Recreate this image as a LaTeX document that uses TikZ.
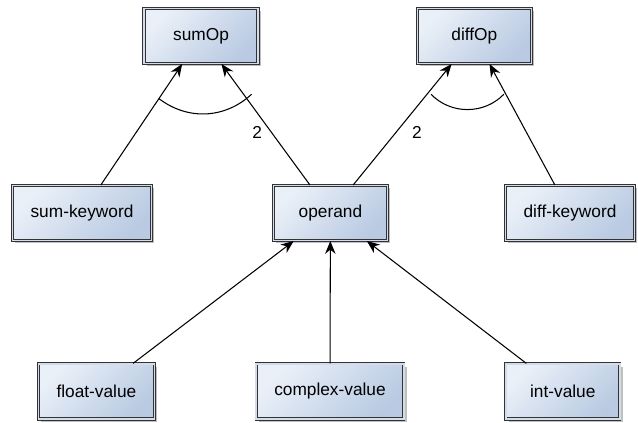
\documentclass[tikz,border=0pt]{standalone}
\usepackage{fontspec}
\setmainfont{Liberation Sans}
\usetikzlibrary{arrows.meta,shadows}
\definecolor{boxlight}{HTML}{EAF0F8}
\definecolor{boxdark}{HTML}{B9CAE2}
\definecolor{boxgap}{HTML}{D2DCEA}
\tikzset{
  concept/.style={draw=black!80, line width=0.6pt, double=boxgap, double distance=1.1pt,
    top color=boxlight, bottom color=boxdark, shading angle=45,
    drop shadow={shadow xshift=2pt, shadow yshift=-2pt, opacity=0.25, fill=black},
    minimum width=2.85cm, minimum height=1.38cm, inner xsep=0.45cm,
    font=\fontsize{12.3}{14}\selectfont},
  link/.style={-{Stealth[length=3.2mm,width=2.6mm]}, line width=0.75pt},
  card/.style={font=\fontsize{12.3}{14}\selectfont, inner sep=1pt}
}
\begin{document}
\begin{tikzpicture}
    \useasboundingbox (0,0) rectangle (15.95,10.575);
    % Nodes
    \node[concept] (sumop) at (5.025,9.675) {sumOp};
    \node[concept] (diffop) at (11.86,9.675) {diffOp};
    %
    \node[concept] (sumkw) at (2.05,5.25) {sum-keyword};
    \node[concept] (operand) at (8.26,5.25) {operand};
    \node[concept] (diffkw) at (14.25,5.25) {diff-keyword};
    %
    \node[concept] (floatval) at (2.41,0.79) {float-value};
    \node[concept] (complexval) at (8.25,0.79) {complex-value};
    \node[concept] (intval) at (14.07,0.79) {int-value};
    % Edges
    \draw[link] (sumkw) -- coordinate[pos=0.714] (sumL) (sumop);
    \draw[link] (operand) -- coordinate[pos=0.75] (sumR) node[card, pos=0.43, left=0.2cm] {2} (sumop);
    \draw[link] (operand) -- coordinate[pos=0.75] (diffL) node[card, pos=0.437, right=0.35cm] {2} (diffop);
    \draw[link] (diffkw) -- coordinate[pos=0.75] (diffR) (diffop);
    %
    \draw[link] (floatval) -- (operand);
    \draw[link] (complexval) -- (operand);
    \draw[link] (intval) -- (operand);
    % Arcs
    \draw[line width=0.75pt] (sumL) to[bend right=40] ([xshift=0.2cm]sumR);
    \draw[line width=0.75pt] ([xshift=0.1cm]diffL) to[bend right=46] ([xshift=-0.05cm]diffR);
\end{tikzpicture}
\end{document}
